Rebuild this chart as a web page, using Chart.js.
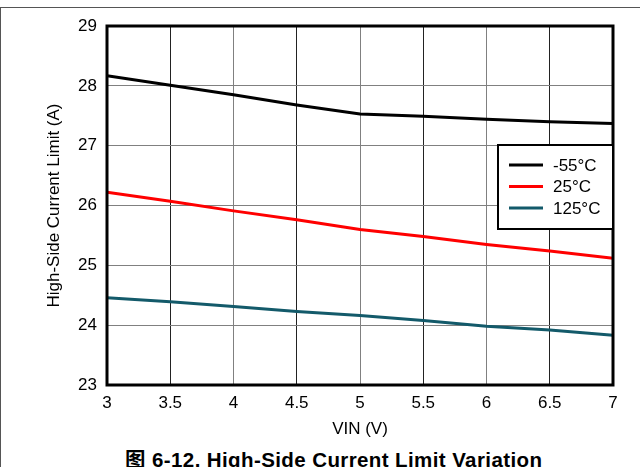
<!DOCTYPE html>
<html>
<head>
<meta charset="utf-8">
<script src="https://cdn.jsdelivr.net/npm/chart.js@4"></script>
<style>
  body { margin: 0; background: #fff; }
  #wrap { position: relative; width: 640px; height: 467px; overflow: hidden; }
  #frame { position: absolute; left: 0; top: 7px; width: 640px; height: 470px;
           border-top: 1.5px solid #555; border-left: 1.5px solid #555; box-sizing: border-box; }
  #c { position: absolute; left: 0; top: 0; }
  #caption { position: absolute; left: 125px; top: 443px; white-space: nowrap; line-height: 23px;
             letter-spacing: 0.4px;
             font: bold 20.5px "Liberation Sans", "Noto Sans CJK SC", sans-serif; color: #000; }
</style>
</head>
<body>
<div id="wrap">
  <div id="frame"></div>
  <canvas id="c" width="640" height="440"></canvas>
  <div id="caption">图 6-12. High-Side Current Limit Variation</div>
</div>
<script>
// data
const vin = [3, 3.5, 4, 4.5, 5, 5.5, 6, 6.5, 7];
const tempLabels = ['-55°C', '25°C', '125°C'];
const limitM55 = [28.17, 28.01, 27.85, 27.68, 27.53, 27.49, 27.44, 27.40, 27.37];
const limit25 = [26.22, 26.07, 25.91, 25.76, 25.60, 25.48, 25.35, 25.24, 25.12];
const limit125 = [24.46, 24.39, 24.31, 24.23, 24.16, 24.08, 23.98, 23.92, 23.83];
const lineColors = ['#000000', '#ff0000', '#135a6a'];

const series = [limitM55, limit25, limit125];
const FONT = '"Liberation Sans", Arial, sans-serif';

const datasets = series.map(function(vals, i) {
  return {
    label: tempLabels[i],
    data: vin.map(function(x, j) { return {x: x, y: vals[j]}; }),
    borderColor: lineColors[i],
    borderWidth: 3,
    pointRadius: 0,
    tension: 0,
    fill: false
  };
});

// frame around plot + legend box inside plot area
const boxPlugin = {
  id: 'boxLegend',
  afterDatasetsDraw(chart) {
    const ctx = chart.ctx;
    const a = chart.chartArea;
    ctx.save();
    ctx.strokeStyle = '#000';
    ctx.lineWidth = 3;
    ctx.strokeRect(a.left, a.top, a.right - a.left, a.bottom - a.top);

    const bx = 498, by = 145, bw = a.right - bx, bh = 84;
    ctx.fillStyle = '#fff';
    ctx.fillRect(bx, by, bw, bh);
    ctx.lineWidth = 2;
    ctx.strokeRect(bx, by, bw, bh);
    ctx.font = '17px ' + FONT;
    ctx.textBaseline = 'middle';
    chart.data.datasets.forEach(function(ds, i) {
      const y = 165 + i * 21.5;
      ctx.strokeStyle = ds.borderColor;
      ctx.lineWidth = 3;
      ctx.beginPath();
      ctx.moveTo(509, y);
      ctx.lineTo(543, y);
      ctx.stroke();
      ctx.fillStyle = '#000';
      ctx.fillText(ds.label, 553, y + 1);
    });
    ctx.restore();
  }
};

new Chart(document.getElementById('c'), {
  type: 'line',
  data: { datasets: datasets },
  options: {
    responsive: false,
    animation: false,
    layout: { padding: { top: 26, right: 27, left: 0, bottom: 0 } },
    plugins: { legend: { display: false }, tooltip: { enabled: false } },
    scales: {
      x: {
        type: 'linear',
        min: 3, max: 7,
        ticks: { stepSize: 0.5, color: '#000', font: { family: FONT, size: 17 }, padding: 8,
                 callback: function(v) { return String(v); } },
        grid: {
          drawTicks: false,
          lineWidth: 1,
          color: function(c) { return (c.tick && c.tick.value % 1 !== 0) ? '#222' : '#808080'; }
        },
        border: { display: false },
        title: { display: true, text: 'VIN (V)', color: '#000', font: { family: FONT, size: 17 },
                 padding: { top: 0, bottom: 0 } },
        afterFit: function(s) { s.height = 55; }
      },
      y: {
        min: 23, max: 29,
        ticks: { stepSize: 1, color: '#000', font: { family: FONT, size: 17 }, padding: 10 },
        grid: { drawTicks: false, lineWidth: 1, color: '#808080' },
        border: { display: false },
        title: { display: true, text: 'High-Side Current Limit (A)', color: '#000',
                 font: { family: FONT, size: 17 }, padding: { top: 44, bottom: 0 } },
        afterFit: function(s) { s.width = 107; }
      }
    }
  },
  plugins: [boxPlugin]
});
</script>
</body>
</html>
